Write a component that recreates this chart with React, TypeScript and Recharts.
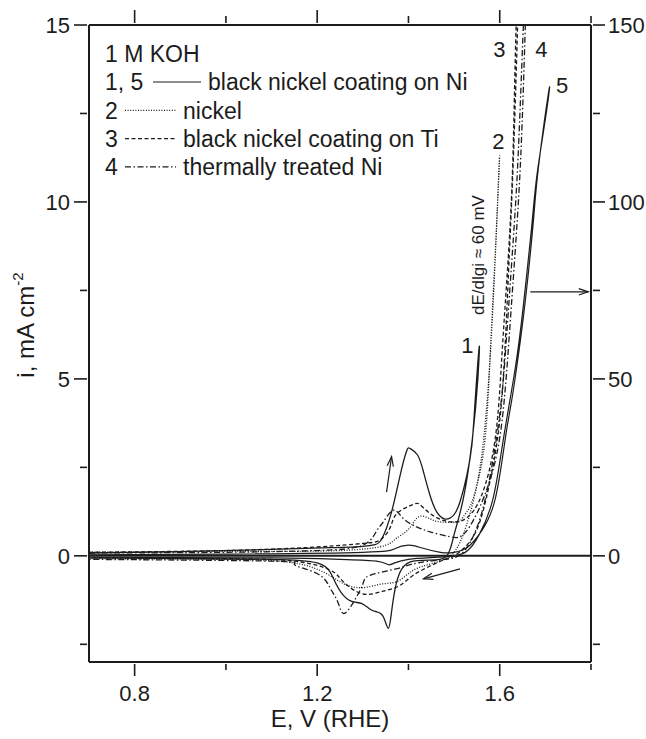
import React from 'react';
import { LineChart, Line, XAxis, YAxis, ReferenceLine, ReferenceDot } from 'recharts';

const FONT = '"Liberation Sans", Arial, Helvetica, sans-serif';
const INK = '#1c1c1c';

// curve 1: black nickel coating on Ni, left axis (mA cm-2)
const e1 = [0.7, 0.9, 1.1, 1.228, 1.3, 1.327, 1.342, 1.363, 1.382, 1.396, 1.404, 1.42, 1.433, 1.447, 1.462, 1.48, 1.499, 1.513, 1.528, 1.539, 1.546, 1.555,
  1.552, 1.54, 1.52, 1.5, 1.484, 1.447, 1.404, 1.382, 1.371, 1.363, 1.356, 1.345, 1.33, 1.316, 1.298, 1.279, 1.257, 1.239, 1.228, 1.2, 1.1, 0.9, 0.7];
const i1 = [0.08, 0.12, 0.18, 0.23, 0.27, 0.32, 0.49, 1.24, 2.29, 2.96, 3.03, 2.85, 2.37, 1.72, 1.24, 1.04, 1.15, 1.53, 2.28, 3.13, 4.35, 5.9,
  5.0, 3.3, 1.6, 0.6, 0.0, -0.12, -0.17, -0.45, -0.92, -1.58, -2.05, -1.72, -1.58, -1.51, -1.35, -1.3, -1.11, -0.73, -0.45, -0.2, -0.1, -0.08, -0.06];

// curve 2: nickel, left axis
const e2 = [0.7, 1.0, 1.25, 1.35, 1.374, 1.4, 1.422, 1.447, 1.469, 1.506, 1.52, 1.535, 1.55, 1.568, 1.579, 1.59, 1.599,
  1.597, 1.585, 1.57, 1.55, 1.52, 1.5, 1.48, 1.43, 1.4, 1.374, 1.34, 1.3, 1.26, 1.22, 1.15, 1.0, 0.7];
const i2 = [0.1, 0.12, 0.15, 0.3, 0.5, 0.75, 1.1, 1.05, 0.96, 0.96, 1.1, 1.4, 2.0, 3.3, 5.67, 8.5, 11.06,
  10.5, 7.0, 4.0, 2.0, 0.6, 0.1, -0.1, -0.3, -0.5, -0.73, -0.8, -0.9, -0.8, -0.5, -0.2, -0.1, -0.08];

// curve 3: black nickel coating on Ti, right axis
const e3 = [0.7, 1.0, 1.2, 1.3, 1.338, 1.36, 1.375, 1.41, 1.425, 1.447, 1.477, 1.506, 1.53, 1.56, 1.59, 1.605, 1.619, 1.629, 1.636, 1.642,
  1.632, 1.622, 1.61, 1.595, 1.57, 1.54, 1.5, 1.48, 1.43, 1.4, 1.375, 1.338, 1.298, 1.257, 1.228, 1.15, 1.0, 0.7];
const i3 = [1.0, 1.5, 2.5, 3.5, 4.5, 8, 12, 14.5, 14.5, 12, 10, 9.6, 11, 17, 33, 57, 85, 113, 150, 165,
  120, 88, 55, 33, 16, 5, 0, -1, -4, -6.5, -8.8, -10.2, -10.7, -7.3, -4, -1.5, -0.8, -0.5];

// curve 4: thermally treated Ni, right axis
const e4 = [0.7, 1.0, 1.2, 1.3, 1.33, 1.345, 1.367, 1.389, 1.418, 1.447, 1.49, 1.52, 1.55, 1.58, 1.605, 1.623, 1.638, 1.649, 1.658,
  1.655, 1.642, 1.63, 1.615, 1.6, 1.575, 1.55, 1.52, 1.48, 1.42, 1.375, 1.316, 1.3, 1.28, 1.258, 1.245, 1.228, 1.2, 1.15, 1.1, 0.7];
const i4 = [0.8, 1.0, 1.5, 3, 7, 9.6, 12.9, 10.5, 8.2, 6.8, 5.4, 6, 12, 22, 38, 66, 94, 122, 160,
  160, 118, 90, 62, 40, 20, 8, 1, -1, -2, -3.6, -5.5, -8, -13, -16.3, -13, -9, -5, -2.5, -1.5, -1];

// curve 5: black nickel coating on Ni, right axis
const e5 = [0.7, 1.0, 1.3, 1.37, 1.4, 1.43, 1.47, 1.5, 1.53, 1.56, 1.59, 1.612, 1.625, 1.638, 1.656, 1.674, 1.685, 1.707,
  1.703, 1.682, 1.67, 1.652, 1.634, 1.608, 1.585, 1.555, 1.53, 1.5, 1.45, 1.4, 1.37, 1.356, 1.33, 1.25, 1.1, 0.7];
const i5 = [0.3, 0.5, 1.0, 2.0, 3.0, 2.2, 1.0, 1.0, 2.5, 7, 16, 33, 43, 54, 72, 95, 110, 131,
  126, 108, 93, 71, 53, 33, 16, 6, 1.5, 0, -0.5, -1, -2, -2.5, -1.5, -1, -0.6, -0.4];

const leftTicks = [-2.5, 0, 2.5, 5, 7.5, 10, 12.5, 15];
const rightTicks = [-25, 0, 25, 50, 75, 100, 125, 150];
const eTicks = [0.8, 1.0, 1.2, 1.4, 1.6, 1.8];
const eLabeled = ['0.8', '1.2', '1.6'];

const legendRows = [
  { num: '1, 5', text: 'black nickel coating on Ni', dash: undefined },
  { num: '2', text: 'nickel', dash: '1 1.6' },
  { num: '3', text: 'black nickel coating on Ti', dash: '4 2.5' },
  { num: '4', text: 'thermally treated Ni', dash: '6 2.5 1.5 2.5' },
];

const curveLabels = [
  { t: '1', E: 1.529, i: 5.96 },
  { t: '2', E: 1.597, i: 11.73 },
  { t: '3', E: 1.599, i: 14.33 },
  { t: '4', E: 1.691, i: 14.33 },
  { t: '5', E: 1.737, i: 13.31 },
];

const zip = (e: number[], v: number[]) => e.map((E, k) => ({ E, i: v[k] }));
const c1 = zip(e1, i1);
const c2 = zip(e2, i2);
const c3 = zip(e3, i3);
const c4 = zip(e4, i4);
const c5 = zip(e5, i5);

const txt = { fontFamily: FONT, fontSize: 22, fill: INK };
const big = { fontFamily: FONT, fontSize: 23, fill: INK };

const LeftTick = (p: any) => {
  const v = p.payload.value;
  const major = v % 5 === 0;
  const len = major ? 13 : 7;
  return (
    <g>
      <line x1={p.x} x2={p.x - len} y1={p.y} y2={p.y} stroke={INK} strokeWidth={1.6} />
      {major && <text {...txt} x={p.x - 17} y={p.y} dy="0.36em" textAnchor="end">{v}</text>}
    </g>
  );
};

const RightTick = (p: any) => {
  const v = p.payload.value;
  const major = v % 50 === 0;
  const len = major ? 12 : 7;
  return (
    <g>
      <line x1={p.x} x2={p.x + len} y1={p.y} y2={p.y} stroke={INK} strokeWidth={1.6} />
      {major && <text {...txt} x={p.x + 15} y={p.y} dy="0.36em" textAnchor="start">{v}</text>}
    </g>
  );
};

const BottomTick = (p: any) => {
  const s = p.payload.value.toFixed(1);
  const major = eLabeled.includes(s);
  const len = major ? 12 : 6;
  return (
    <g>
      <line x1={p.x} x2={p.x} y1={p.y} y2={p.y + len} stroke={INK} strokeWidth={1.6} />
      {major && <text {...txt} x={p.x} y={p.y + 37} textAnchor="middle">{s}</text>}
    </g>
  );
};

const TopTick = (p: any) => {
  const s = p.payload.value.toFixed(1);
  const major = eLabeled.includes(s);
  const len = major ? 13 : 7;
  return <line x1={p.x} x2={p.x} y1={p.y} y2={p.y - len} stroke={INK} strokeWidth={1.6} />;
};

const Arrow = (p: any) => {
  const { x1, y1, x2, y2 } = p;
  const a = Math.atan2(y2 - y1, x2 - x1);
  const h = 10;
  const w = 0.32;
  return (
    <g stroke={INK} strokeWidth={1.2} fill="none">
      <line x1={x1} y1={y1} x2={x2} y2={y2} />
      <polyline points={`${x2 - h * Math.cos(a - w)},${y2 - h * Math.sin(a - w)} ${x2},${y2} ${x2 - h * Math.cos(a + w)},${y2 - h * Math.sin(a + w)}`} />
    </g>
  );
};

export default function App() {
  return (
    <div style={{ position: 'absolute', left: 0, top: 0, background: '#fff' }}>
      <LineChart width={646} height={739} margin={{ top: 5, right: 0, bottom: 7, left: 29 }}>
        <XAxis xAxisId="b" dataKey="E" type="number" domain={[0.7, 1.8]} allowDataOverflow ticks={eTicks} interval={0}
          tickSize={0} tickLine={false} tick={<BottomTick />} height={70} stroke={INK} strokeWidth={2} />
        <XAxis xAxisId="t" orientation="top" dataKey="E" type="number" domain={[0.7, 1.8]} allowDataOverflow ticks={eTicks} interval={0}
          tickSize={0} tickLine={false} tick={<TopTick />} height={20} stroke={INK} strokeWidth={2} />
        <YAxis yAxisId="left" type="number" domain={[-3, 15]} allowDataOverflow ticks={leftTicks} interval={0}
          tickSize={0} tickLine={false} tick={<LeftTick />} width={60} stroke={INK} strokeWidth={2} />
        <YAxis yAxisId="right" orientation="right" type="number" domain={[-30, 150]} allowDataOverflow ticks={rightTicks} interval={0}
          tickSize={0} tickLine={false} tick={<RightTick />} width={55} stroke={INK} strokeWidth={2} />

        <ReferenceLine xAxisId="b" yAxisId="left" y={0} stroke={INK} strokeWidth={2} />

        <Line xAxisId="b" yAxisId="left" data={c1} dataKey="i" type="natural" stroke={INK} strokeWidth={1.3} dot={false} isAnimationActive={false} />
        <Line xAxisId="b" yAxisId="left" data={c2} dataKey="i" type="natural" stroke={INK} strokeWidth={1.3} strokeDasharray="1 1.6" dot={false} isAnimationActive={false} />
        <Line xAxisId="b" yAxisId="right" data={c3} dataKey="i" type="natural" stroke={INK} strokeWidth={1.3} strokeDasharray="4 2.5" dot={false} isAnimationActive={false} />
        <Line xAxisId="b" yAxisId="right" data={c4} dataKey="i" type="natural" stroke={INK} strokeWidth={1.3} strokeDasharray="6 2.5 1.5 2.5" dot={false} isAnimationActive={false} />
        <Line xAxisId="b" yAxisId="right" data={c5} dataKey="i" type="natural" stroke={INK} strokeWidth={1.2} dot={false} isAnimationActive={false} />

        <ReferenceLine xAxisId="b" yAxisId="left" segment={[{ x: 1.352, y: 1.8 }, { x: 1.363, y: 2.8 }]} shape={<Arrow />} />
        <ReferenceLine xAxisId="b" yAxisId="left" segment={[{ x: 1.513, y: -0.37 }, { x: 1.433, y: -0.65 }]} shape={<Arrow />} />
        <ReferenceLine xAxisId="b" yAxisId="left" segment={[{ x: 1.667, y: 7.46 }, { x: 1.794, y: 7.46 }]} shape={<Arrow />} />

        {curveLabels.map((c) => (
          <ReferenceDot key={c.t} xAxisId="b" yAxisId="left" x={c.E} y={c.i} r={0}
            shape={(p: any) => <text {...txt} x={p.cx} y={p.cy} dy="0.36em" textAnchor="middle">{c.t}</text>} />
        ))}
        <ReferenceDot xAxisId="b" yAxisId="left" x={1.553} y={8.5} r={0}
          shape={(p: any) => (
            <text x={p.cx} y={p.cy} dy="0.36em" textAnchor="middle" fontFamily={FONT} fontSize={17} fill={INK}
              transform={`rotate(-90 ${p.cx} ${p.cy})`}>dE/dlgi ≈ 60 mV</text>
          )} />

        <g>
          <text {...big} x={105} y={54} dy="0.36em">1 M KOH</text>
          {legendRows.map((r, k) => {
            const y = 82 + k * 28.3;
            const x0 = k === 0 ? 153 : 125;
            const tx = k === 0 ? 208 : 183;
            return (
              <g key={r.num}>
                <text {...big} x={105} y={y} dy="0.36em">{r.num}</text>
                <line x1={x0} x2={tx - 7} y1={y} y2={y} stroke={INK} strokeWidth={1.2} strokeDasharray={r.dash} />
                <text {...big} x={tx} y={y} dy="0.36em">{r.text}</text>
              </g>
            );
          })}
        </g>

        <text fontFamily={FONT} fontSize={24} fill={INK} x={330} y={718} dy="0.36em" textAnchor="middle">E, V (RHE)</text>
        <text fontFamily={FONT} fontSize={24} fill={INK} x={25} y={325} dy="0.36em" textAnchor="middle" transform="rotate(-90 25 325)">
          i, mA cm<tspan fontSize={15} dy="-0.7em">-2</tspan>
        </text>
      </LineChart>
    </div>
  );
}
